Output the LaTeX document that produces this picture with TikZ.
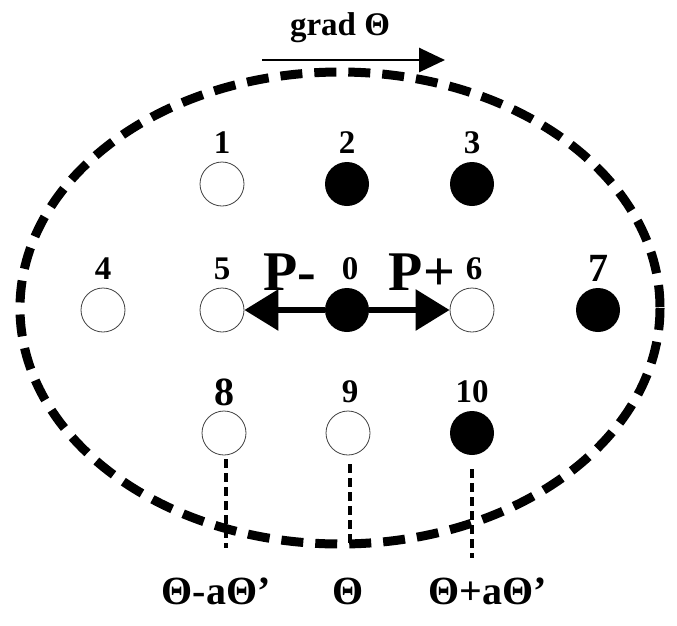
\documentclass[tikz,border=0pt]{standalone}
\usepackage{fontspec}
\setmainfont{Liberation Serif}
\usetikzlibrary{arrows.meta}
\begin{document}
\begin{tikzpicture}[x=1pt,y=-1pt,
  site/.style={circle,minimum size=44pt,inner sep=0pt},
  open/.style={site,draw=black!75,line width=0.8pt,fill=white},
  full/.style={site,fill=black},
  lbl/.style={font=\fontsize{33}{36}\selectfont\bfseries,inner sep=0pt},
  biglbl/.style={font=\fontsize{40}{44}\selectfont\bfseries,inner sep=0pt},
  plbl/.style={font=\fontsize{56}{60}\selectfont\bfseries,inner sep=0pt},
  blbl/.style={font=\fontsize{40}{44}\selectfont\bfseries,inner sep=0pt},
  dline/.style={line width=3.2pt,dash pattern=on 9pt off 5pt},
  bigarrow/.style={line width=6pt,-{Triangle[length=34pt,width=40pt]}},
  gradarrow/.style={line width=2.8pt,-{Triangle[length=26pt,width=24pt]}}]
\useasboundingbox (0,0) rectangle (677,625);
% ellipse
\draw[line width=9pt,dash pattern=on 22pt off 12pt] (340,308) ellipse [x radius=320,y radius=236];
% grad arrow
\node[lbl] (grad) at (340,28) {grad Θ};
\coordinate (g0) at (262,60);
\coordinate (g1) at (445,60);
\draw[gradarrow] (g0) -- (g1);
% sites
\node[open] (n1) at (222,184) {};
\node[full] (n2) at (347,184) {};
\node[full] (n3) at (472,184) {};
\node[open] (n4) at (103,310) {};
\node[open] (n5) at (222,310) {};
\node[full] (n0) at (347,310) {};
\node[open] (n6) at (472,310) {};
\node[full] (n7) at (598,310) {};
\node[open] (n8) at (224,433) {};
\node[open] (n9) at (348,433) {};
\node[full] (n10) at (472,433) {};
% labels
\node[lbl] (l1) at (222,143) {1};
\node[lbl] (l2) at (347,143) {2};
\node[lbl] (l3) at (472,143) {3};
\node[lbl] (l4) at (103,269) {4};
\node[lbl] (l5) at (222,269) {5};
\node[lbl] (l0) at (350,269) {0};
\node[lbl] (l6) at (474,269) {6};
\node[biglbl] (l7) at (598,268) {7};
\node[biglbl] (l8) at (224,392) {8};
\node[lbl] (l9) at (350,392) {9};
\node[lbl] (l10) at (472,392) {10};
\node[plbl] (pm) at (290,272) {P-};
\node[plbl] (pp) at (422,272) {P+};
% arrows
\draw[bigarrow] (n0) -- (n5);
\draw[bigarrow] (n0) -- (n6);
% dashed verticals
\coordinate (e8) at (226,548);
\coordinate (e9) at (350,546);
\coordinate (e10) at (472,558);
\draw[dline] ([yshift=-4pt]n8.south) ++(2,0) -- (e8);
\draw[dline] ([yshift=-9pt]n9.south) ++(2,0) -- (e9);
\draw[dline] ([yshift=-14pt]n10.south) -- (e10);
% bottom labels
\node[blbl] (b1) at (216,591) {Θ-aΘ'};
\node[blbl] (b2) at (348,591) {Θ};
\node[blbl] (b3) at (488,591) {Θ+aΘ'};
\end{tikzpicture}
\end{document}
